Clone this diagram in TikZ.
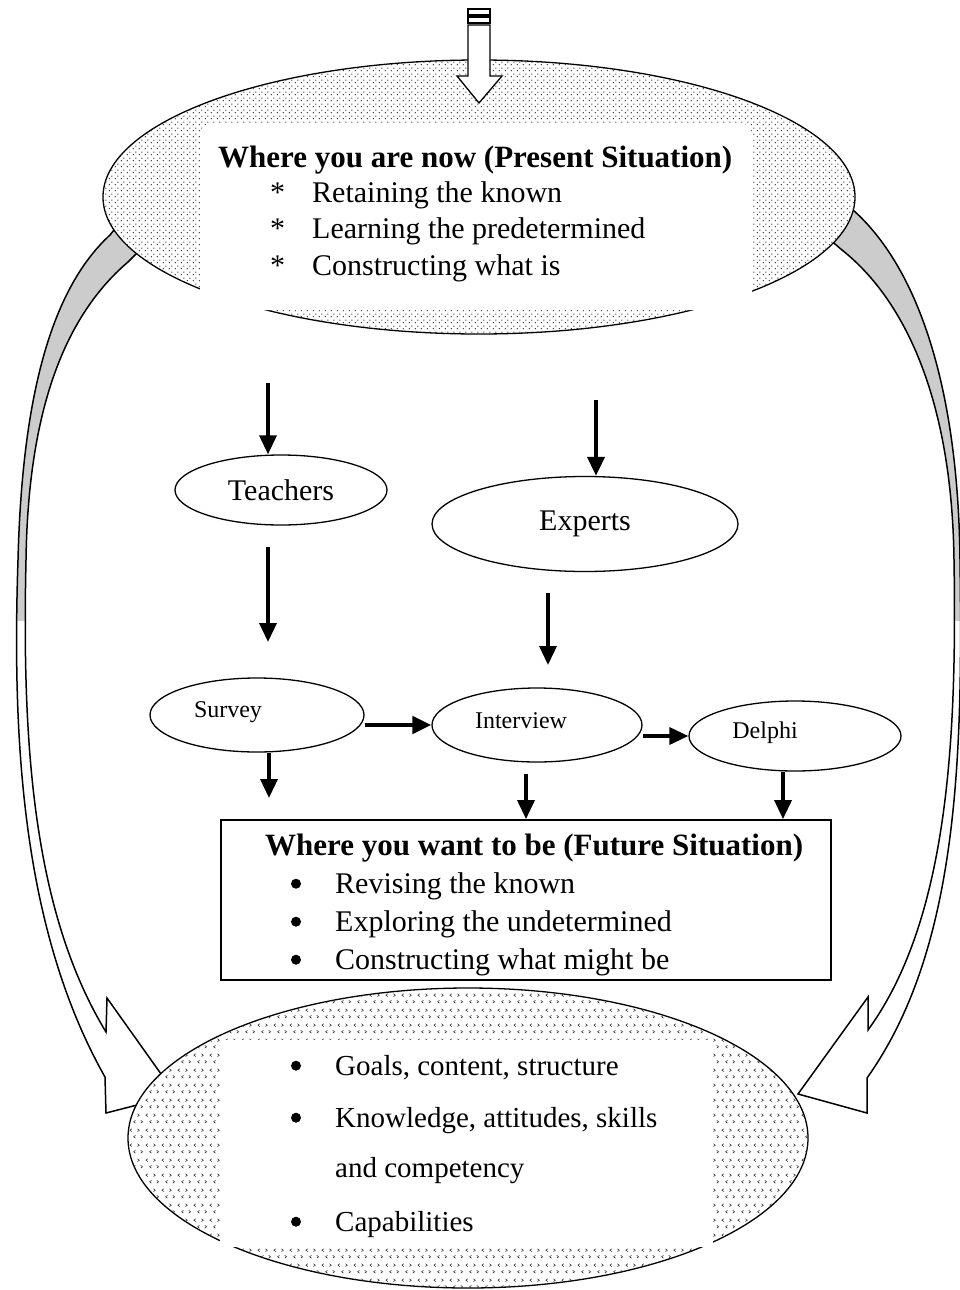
\documentclass[tikz,border=0pt]{standalone}
\usepackage{fontspec}
\setmainfont{Liberation Serif}
\usetikzlibrary{arrows.meta,shapes.geometric,patterns}

% dotted fill of the upper oval
\pgfdeclarepatternformonly{pdots}{\pgfpointorigin}{\pgfqpoint{6pt}{6pt}}{\pgfqpoint{6pt}{6pt}}{%
  \pgfpathcircle{\pgfqpoint{1.5pt}{1.5pt}}{0.8pt}
  \pgfpathcircle{\pgfqpoint{4.5pt}{4.5pt}}{0.8pt}
  \pgfusepath{fill}}
% < > fill of the lower oval
\pgfdeclarepatternformonly{pchev}{\pgfpointorigin}{\pgfqpoint{16pt}{15pt}}{\pgfqpoint{16pt}{15pt}}{%
  \pgfsetlinewidth{0.6pt}
  \pgfpathmoveto{\pgfqpoint{4pt}{13pt}}\pgfpathlineto{\pgfqpoint{2pt}{11.5pt}}\pgfpathlineto{\pgfqpoint{4pt}{10pt}}
  \pgfpathmoveto{\pgfqpoint{10pt}{13pt}}\pgfpathlineto{\pgfqpoint{12pt}{11.5pt}}\pgfpathlineto{\pgfqpoint{10pt}{10pt}}
  \pgfpathmoveto{\pgfqpoint{8pt}{6pt}}\pgfpathlineto{\pgfqpoint{6pt}{4.5pt}}\pgfpathlineto{\pgfqpoint{8pt}{3pt}}
  \pgfpathmoveto{\pgfqpoint{13.5pt}{6pt}}\pgfpathlineto{\pgfqpoint{15.5pt}{4.5pt}}\pgfpathlineto{\pgfqpoint{13.5pt}{3pt}}
  \pgfusepath{stroke}}

\newcommand\leftband{(122,220) -- (110,235) .. controls (50,290) and (22,400) .. (18,560)
  .. controls (12,740) and (22,930) .. (105,1077) -- (106,1113) -- (176,1095) -- (107,998) -- (106,1032)
  .. controls (32,910) and (22,740) .. (26,560) .. controls (28,420) and (60,320) .. (128,262) -- (142,248) -- cycle}
\newcommand\rightband{(845,196) -- (853,210) .. controls (915,265) and (958,380) .. (960,560)
  .. controls (963,760) and (958,950) .. (867,1078) -- (867,1113) -- (798,1094) -- (868,997) -- (868,1030)
  .. controls (948,920) and (957,740) .. (954,560) .. controls (952,400) and (905,300) .. (842,250) -- (828,238) -- cycle}

\tikzset{
  arr/.style={line width=3.5pt,-{Triangle[width=17pt,length=19pt]}},
  oval/.style={ellipse,draw,line width=1.3pt,inner sep=0pt},
  txt/.style={anchor=base west,inner sep=0pt,font=\fontsize{30}{36}\selectfont},
  head/.style={txt,font=\fontsize{31}{36}\selectfont\bfseries},
  small/.style={font=\fontsize{24}{28}\selectfont},
  dot/.style={circle,fill,inner sep=0pt,minimum size=10pt},
}

\begin{document}
\begin{tikzpicture}[x=1pt,y=-1pt]
\useasboundingbox (0,0) rectangle (960,1290);
% curved bands round the sides
\fill[white] \leftband;
\fill[white] \rightband;
\begin{scope}
  \clip (0,0) rectangle (960,620);
  \fill[black!20] \leftband;
  \fill[black!20] \rightband;
\end{scope}
\draw[line width=1.5pt] \leftband;
\draw[line width=1.5pt] \rightband;

% upper oval
\node[oval,minimum width=752pt,minimum height=274pt,fill=white,
  postaction={pattern=pdots,pattern color=black!80}] (present) at (479,197) {};
\draw[line width=1.3pt,fill=white] (468,9) rectangle (490,15);
\draw[line width=1.3pt,fill=white] (468,17) rectangle (490,23);
\draw[line width=1.3pt,fill=white] (468,25) -- (490,25) -- (490,76) -- (502,76) -- (479,103) -- (457,76) -- (468,76) -- cycle;
\fill[white,rounded corners=12pt] (200,123) rectangle (752,310);
\node[head] (ptitle) at (218,167) {Where you are now (Present Situation)};
\foreach \i/\t in {1/Retaining the known,2/Learning the predetermined,3/Constructing what is} {
  \node[txt] (pstar\i) at (270,{165.5+36.5*\i}) {*};
  \node[txt] (pitem\i) at (312,{165.5+36.5*\i}) {\t};
}

% lower oval
\node[oval,minimum width=680pt,minimum height=300pt,fill=white,
  postaction={pattern=pchev,pattern color=black!80}] (goals) at (468,1138) {};
\fill[white] (220,1040) rectangle (713,1247);
\foreach \i/\y/\t in {1/1075/{Goals, content, structure},2/1127/{Knowledge, attitudes, skills},
    3/1177/{and competency},4/1231/Capabilities}
  \node[txt,font=\fontsize{29}{34}\selectfont] (gitem\i) at (335,\y) {\t};
\foreach \i in {1,2,4}
  \node[dot] (gdot\i) at ([xshift=-39pt,yshift=7pt]gitem\i.mid west) {};

% middle nodes
\node[oval,minimum width=212pt,minimum height=70pt,font=\fontsize{30}{36}\selectfont] (teachers) at (281,490) {Teachers};
\node[oval,minimum width=306pt,minimum height=95pt,font=\fontsize{30}{36}\selectfont] (experts) at (585,524) {Experts};
\node[oval,minimum width=214pt,minimum height=74pt,label={[small,xshift=-29pt,yshift=3pt]center:Survey}] (survey) at (257,715) {};
\node[oval,minimum width=210pt,minimum height=74pt,label={[small,xshift=-16pt,yshift=4pt]center:Interview}] (interview) at (537,725) {};
\node[oval,minimum width=212pt,minimum height=70pt,label={[small,xshift=-30pt,yshift=3pt]center:Delphi}] (delphi) at (795,736) {};

\node[draw,line width=1.8pt,minimum width=610pt,minimum height=160pt,inner sep=0pt] (future) at (526,900) {};
\node[head] (ftitle) at (265,855) {Where you want to be (Future Situation)};
\foreach \i/\t in {1/Revising the known,2/Exploring the undetermined,3/Constructing what might be} {
  \node[txt] (fitem\i) at (335,{855+38*\i}) {\t};
  \node[dot] (fdot\i) at ([xshift=-39pt,yshift=7pt]fitem\i.mid west) {};
}

% arrows
\coordinate (tin) at (268,383);
\coordinate (tup) at (268,547);
\coordinate (tdown) at (268,642);
\coordinate (ein) at (596,400);
\coordinate (eup) at (548,593);
\coordinate (edown) at (548,665);
\coordinate (sdown) at (269,798);
\coordinate (iup) at (526,774);
\draw[arr] (tin) -- (tin |- teachers.north);
\draw[arr] (tup) -- (tdown);
\draw[arr,line width=4pt] (ein) -- (ein |- experts.north);
\draw[arr] (eup) -- (edown);
\draw[arr,line width=4.5pt] (survey.east |- interview.west) -- (interview.west);
\draw[arr] (interview.east |- delphi.west) -- (delphi.west);
\draw[arr] (survey.south -| sdown) -- (sdown);
\draw[arr] (iup) -- (iup |- future.north);
\draw[arr] ([xshift=-12pt]delphi.south) -- ([xshift=-12pt]delphi.south |- future.north);
\end{tikzpicture}
\end{document}
